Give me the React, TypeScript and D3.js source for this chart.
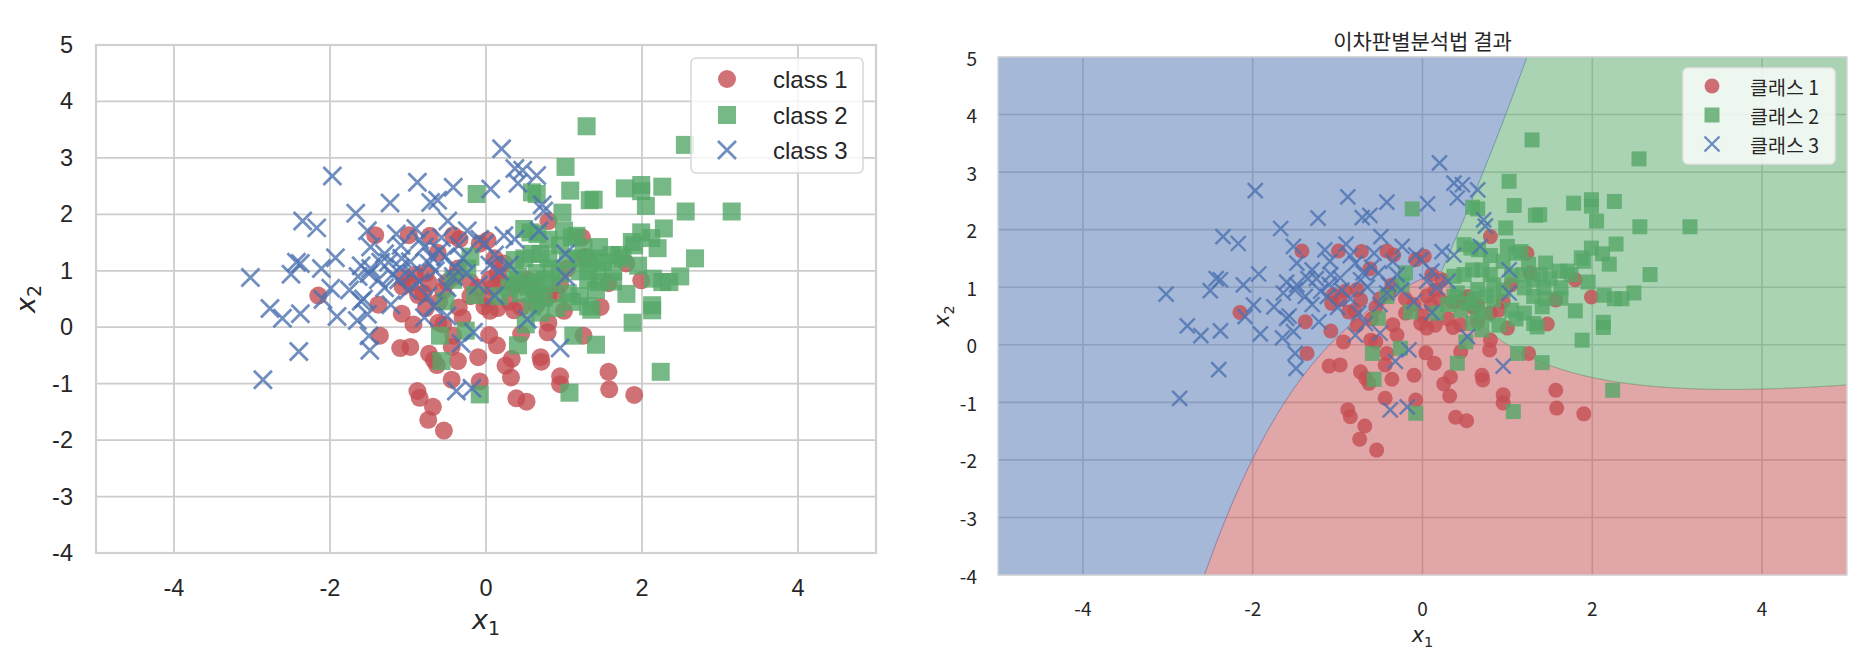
import React, { useMemo } from 'react';
import * as d3 from 'd3';

type Pt = [number, number];

// ---------- data ----------
const class1: Pt[] = [
  [-1.42, 1.63], [-0.99, 1.63], [-0.72, 1.62], [-0.42, 1.63], [-0.34, 1.56], [-0.62, 1.32], [-0.08, 1.48], [-0.36, 1.04], [-0.91, 0.93], [-0.77, 0.96],
  [-1.05, 0.87], [0.80, 1.88], [1.23, 1.59], [0.02, 1.54], [0.11, 1.22], [0.23, 1.13], [1.27, 1.25], [1.04, 1.04], [0.53, 0.84], [1.80, 1.13],
  [1.99, 0.83], [1.57, 0.78], [1.47, 0.36], [1.25, -0.15], [1.57, -0.79], [1.58, -1.10], [1.90, -1.20], [-2.15, 0.56], [-1.38, 0.40], [-1.08, 0.24],
  [-0.87, 0.57], [-1.07, 0.72], [-0.97, 0.78], [-0.93, 0.05], [-1.36, -0.15], [-1.10, -0.37], [-0.97, -0.35], [-0.73, -0.47], [-0.67, -0.58], [-0.63, -0.67],
  [-0.36, -0.60], [-0.61, 0.08], [-0.77, 0.34], [-0.44, -0.35], [-0.30, 0.17], [-0.44, -0.93], [-0.88, -1.13], [-0.85, -1.25], [-0.68, -1.41], [-0.74, -1.64],
  [-0.54, -1.83], [-0.10, -0.53], [-0.08, -0.96], [-0.55, 0.05], [-0.42, -0.15], [-0.02, 0.37], [0.05, 0.29], [0.15, 0.34], [0.36, 0.30], [0.04, -0.14],
  [0.14, -0.32], [0.33, -0.56], [0.25, -0.68], [0.32, -0.89], [0.70, -0.53], [0.71, -0.61], [0.45, -0.12], [0.79, -0.09], [0.95, -0.87], [0.95, -1.01],
  [0.39, -1.26], [0.52, -1.32], [1.00, 0.29], [0.80, 0.08], [-0.73, 0.78], [0.65, 0.69],
  [-0.55, 0.65], [-0.20, 0.55], [0.35, 0.75], [0.40, 0.75], [-0.10, 0.70], [0.80, 0.55], [0.10, 0.70], [-0.40, 0.90], [0.20, 0.80], [0.65, 0.40],
  [-0.50, 0.80], [0.30, 0.45], [0.95, 0.75], [-0.20, 0.80], [0.50, 0.80], [-0.60, 0.45], [0.60, 0.65], [-0.80, 0.60], [0.15, 0.95], [-0.35, 0.35],
  [0.90, 0.60], [0.00, 0.50], [0.45, 0.35], [0.05, 0.85],
];

const class2: Pt[] = [
  [-0.12, 2.36], [-0.20, 1.25], [-0.24, 1.04], [-0.42, 0.84], [1.29, 3.56], [1.02, 2.84], [1.08, 2.42], [0.59, 2.39], [0.65, 2.36], [1.33, 2.25],
  [0.98, 2.03], [0.49, 1.74], [0.57, 1.68], [0.66, 1.65], [1.00, 1.71], [1.10, 1.59], [1.16, 1.62], [0.59, 1.30], [0.70, 1.30], [0.80, 1.22],
  [0.49, 1.22], [0.37, 1.19], [1.18, 1.22], [2.55, 3.23], [1.78, 2.46], [1.99, 2.52], [1.99, 2.41], [2.26, 2.49], [1.38, 2.26], [2.05, 2.15],
  [2.56, 2.05], [3.15, 2.05], [1.99, 1.68], [2.28, 1.75], [2.12, 1.58], [1.87, 1.51], [1.90, 1.45], [2.20, 1.40], [1.45, 1.42], [1.61, 1.28],
  [1.71, 1.28], [1.75, 1.22], [1.39, 1.22], [1.95, 1.09], [2.68, 1.22], [2.49, 0.90], [2.14, 0.86], [2.26, 0.80], [2.35, 0.80], [1.63, 0.81],
  [1.41, 0.66], [1.35, 0.31], [1.80, 0.59], [2.13, 0.39], [1.88, 0.08], [1.41, -0.31], [2.24, -0.79], [-0.52, 0.46], [-0.59, -0.15], [-0.26, -0.06],
  [-0.57, -0.60], [-0.08, -1.19], [0.41, -0.32], [1.12, -0.15], [1.07, -1.16], [0.51, 0.05], [0.17, 0.55], [1.31, 0.37], [2.13, 0.30],
  [0.37, 0.84], [0.55, 0.72], [0.65, 0.58], [0.74, 0.52], [0.59, 0.37], [0.70, 0.26], [0.90, 0.34], [0.84, 0.78], [-0.14, 0.57], [0.84, 1.04],
  [0.65, 0.96], [0.41, 0.90], [1.20, 0.99], [1.31, 1.13], [1.43, 0.99], [1.63, 0.99], [1.31, 0.84],
  [1.05, 0.60], [0.95, 1.45], [1.50, 1.15], [0.95, 0.95], [1.10, 0.45], [0.80, 1.55], [1.25, 1.40], [0.45, 0.60], [0.60, 0.80], [1.45, 0.80],
  [0.75, 0.85], [1.05, 1.20], [0.30, 0.70], [1.20, 0.55],
];

const class3: Pt[] = [
  [-1.97, 2.68], [-1.67, 2.02], [-2.35, 1.88], [-2.17, 1.76], [-1.52, 1.71], [-1.48, 1.42], [-1.93, 1.23], [-2.43, 1.15], [-2.38, 1.13], [-2.11, 1.04],
  [-3.02, 0.88], [-2.50, 0.94], [-1.60, 1.09], [-1.64, 0.90], [-1.50, 0.95], [-1.99, 0.69], [-2.09, 0.49], [-2.77, 0.33], [-2.61, 0.16], [-2.38, 0.24],
  [-1.91, 0.19], [-1.75, 0.66], [-1.60, 0.46], [-1.57, 0.50], [-1.65, 0.12], [-1.52, 0.23], [-1.50, -0.15], [-1.49, -0.41], [-2.40, -0.43], [-2.86, -0.93],
  [-0.88, 2.57], [-0.42, 2.48], [-1.23, 2.20], [-0.71, 2.21], [-0.62, 2.25], [-0.49, 1.88], [-0.24, 1.71], [-1.30, 1.30], [-1.09, 1.45], [-0.79, 1.42],
  [-0.57, 1.59], [-1.08, 1.22], [-0.97, 1.16], [-0.73, 1.13], [-0.52, 1.25], [-0.30, 1.22], [-1.48, 1.04], [-1.20, 0.93], [-1.38, 0.84], [-0.42, 0.90],
  [0.20, 3.16], [0.37, 2.81], [0.47, 2.78], [0.41, 2.55], [0.65, 2.69], [0.06, 2.45], [0.72, 2.17], [0.74, 2.06], [0.68, 1.71], [0.23, 1.62],
  [0.37, 1.56], [-0.08, 1.56], [-0.02, 1.48], [0.11, 1.28], [1.02, 1.30], [1.02, 0.90], [0.17, 0.99], [-1.22, 0.40], [-0.79, 0.17], [-0.67, 0.37],
  [-0.50, 0.20], [-0.32, -0.29], [-0.16, -0.09], [-0.38, -1.13], [-0.18, -1.08], [-1.12, 0.84], [0.53, 0.14], [0.95, -0.37], [0.11, 0.56],
  [-0.90, 1.75], [-1.15, 1.65], [-0.65, 1.00], [-0.25, 0.95], [-1.00, 0.65], [-0.50, 0.70], [0.05, 1.10], [-0.85, 1.55], [-0.35, 1.45], [-1.25, 1.15],
  [-0.60, 1.35], [-0.10, 0.75], [-1.35, 1.15], [-1.30, 0.70], [-0.95, 0.95], [-0.85, 0.80], [-0.75, 0.55], [-1.10, 1.05], [-0.40, 1.05], [0.30, 1.10],
  [-0.70, 1.25],
];

const xTicks = [-4, -2, 0, 2, 4];
const yTicks = [-4, -3, -2, -1, 0, 1, 2, 3, 4, 5];
const xDomain: Pt = [-5, 5];
const yDomain: Pt = [-4, 5];
const legendLeft = ['class 1', 'class 2', 'class 3'];
const legendRight = ['클래스 1', '클래스 2', '클래스 3'];
const rightTitle = '이차판별분석법 결과';

// ---------- styling ----------
const COLORS = ['#C44E52', '#55A868', '#4C72B0'];
const TEXT = '#262626';
const GRID = '#cccccc';
const classes = [class1, class2, class3];

type Box = { l: number; r: number; t: number; b: number };
const LBOX: Box = { l: 96, r: 876, t: 45, b: 553 };
const RBOX: Box = { l: 998, r: 1847, t: 57, b: 575 };

function Marker({ kind, cx, cy, s, sw, color }: { kind: number; cx: number; cy: number; s: number; sw: number; color: string }) {
  const h = s / 2;
  if (kind === 0) return <circle cx={cx} cy={cy} r={h} fill={color} fillOpacity={0.8} />;
  if (kind === 1) return <rect x={cx - h} y={cy - h} width={s} height={s} fill={color} fillOpacity={0.8} />;
  return (
    <path
      d={`M${cx - h},${cy - h}L${cx + h},${cy + h}M${cx - h},${cy + h}L${cx + h},${cy - h}`}
      stroke={color}
      strokeOpacity={0.8}
      strokeWidth={sw}
      fill="none"
    />
  );
}

// Quadratic discriminant analysis fitted on the three classes
function fitQDA(groups: Pt[][]) {
  const N = d3.sum(groups, (g) => g.length);
  return groups.map((pts) => {
    const n = pts.length;
    const mx = d3.mean(pts, (p) => p[0]) as number;
    const my = d3.mean(pts, (p) => p[1]) as number;
    let sxx = 0, sxy = 0, syy = 0;
    for (const p of pts) {
      const dx = p[0] - mx, dy = p[1] - my;
      sxx += dx * dx; sxy += dx * dy; syy += dy * dy;
    }
    sxx /= n - 1; sxy /= n - 1; syy /= n - 1;
    const det = sxx * syy - sxy * sxy;
    return { mx, my, ixx: syy / det, iyy: sxx / det, ixy: -sxy / det, logdet: Math.log(det), logp: Math.log(n / N) };
  });
}

function Panel({ box, korean }: { box: Box; korean: boolean }) {
  const xs = d3.scaleLinear().domain(xDomain).range([box.l, box.r]);
  const ys = d3.scaleLinear().domain(yDomain).range([box.b, box.t]);
  const ms = korean ? 15 : 18;
  const sw = korean ? 2.4 : 2.8;
  const tickFont = korean ? '"Noto Sans CJK KR", "Noto Sans", sans-serif' : '"Liberation Sans", Arial, sans-serif';
  const tickSize = korean ? 19 : 23.5;

  const regions = useMemo(() => {
    if (!korean) return null;
    const models = fitQDA(classes);
    const nx = 500, ny = 450;
    const scores = models.map(() => new Float64Array(nx * ny));
    for (let j = 0; j < ny; j++) {
      const y = yDomain[1] - ((j + 0.5) * (yDomain[1] - yDomain[0])) / ny;
      for (let i = 0; i < nx; i++) {
        const x = xDomain[0] + ((i + 0.5) * (xDomain[1] - xDomain[0])) / nx;
        models.forEach((m, k) => {
          const dx = x - m.mx, dy = y - m.my;
          scores[k][j * nx + i] = -0.5 * m.logdet - 0.5 * (dx * dx * m.ixx + 2 * dx * dy * m.ixy + dy * dy * m.iyy) + m.logp;
        });
      }
    }
    const W = box.r - box.l, H = box.b - box.t;
    const path = d3.geoPath(
      d3.geoTransform({
        point(px: number, py: number) {
          (this as any).stream.point(box.l + (px * W) / nx, box.t + (py * H) / ny);
        },
      })
    );
    return models.map((_, k) => {
      const vals = new Array(nx * ny);
      for (let q = 0; q < nx * ny; q++) {
        let best = -Infinity;
        for (let o = 0; o < models.length; o++) if (o !== k && scores[o][q] > best) best = scores[o][q];
        vals[q] = scores[k][q] - best;
      }
      const c = d3.contours().size([nx, ny]).thresholds([0])(vals)[0];
      return path(c as any) || '';
    });
  }, [korean]);

  const clipId = korean ? 'clipR' : 'clipL';
  const legendLabels = korean ? legendRight : legendLeft;
  const lg = korean
    ? { x: 1683, y: 68, w: 152, h: 96, mx: 1712, tx: 1750, rows: [86, 115, 144], fs: 19.5, font: '"Noto Sans CJK KR", sans-serif' }
    : { x: 691, y: 58, w: 172, h: 115, mx: 727, tx: 773, rows: [79, 115, 150], fs: 24, font: '"Liberation Sans", Arial, sans-serif' };

  return (
    <g>
      <defs>
        <clipPath id={clipId}>
          <rect x={box.l} y={box.t} width={box.r - box.l} height={box.b - box.t} />
        </clipPath>
      </defs>
      <rect x={box.l} y={box.t} width={box.r - box.l} height={box.b - box.t} fill="#ffffff" />
      {xTicks.map((v) => (
        <line key={'gx' + v} x1={xs(v)} x2={xs(v)} y1={box.t} y2={box.b} stroke={GRID} strokeWidth={korean ? 1.6 : 1.8} />
      ))}
      {yTicks.map((v) => (
        <line key={'gy' + v} x1={box.l} x2={box.r} y1={ys(v)} y2={ys(v)} stroke={GRID} strokeWidth={korean ? 1.6 : 1.8} />
      ))}
      {regions && (
        <g clipPath={`url(#${clipId})`}>
          {regions.map((d, k) => (
            <path key={'reg' + k} d={d} fill={COLORS[k]} fillOpacity={0.5} stroke={COLORS[k]} strokeOpacity={0.45} strokeWidth={0.9} />
          ))}
        </g>
      )}
      <rect x={box.l} y={box.t} width={box.r - box.l} height={box.b - box.t} fill="none" stroke={korean ? '#d8d8d8' : '#d0d0d0'} strokeWidth={korean ? 1.5 : 2.2} />
      <g clipPath={`url(#${clipId})`}>
        {classes.map((pts, k) =>
          pts.map((p, i) => <Marker key={k + '-' + i} kind={k} cx={xs(p[0])} cy={ys(p[1])} s={ms} sw={sw} color={COLORS[k]} />)
        )}
      </g>
      {/* tick labels */}
      {xTicks.map((v) => (
        <text key={'tx' + v} x={xs(v)} y={korean ? 607 : 588} textAnchor="middle" dominantBaseline="central" fontFamily={tickFont} fontSize={tickSize} fill={TEXT}>
          {`${v}`}
        </text>
      ))}
      {yTicks.map((v) => (
        <text key={'ty' + v} x={korean ? 977 : 73} y={ys(v)} textAnchor="end" dominantBaseline="central" fontFamily={tickFont} fontSize={tickSize} fill={TEXT}>
          {`${v}`}
        </text>
      ))}
      {/* axis labels */}
      <text x={(box.l + box.r) / 2} y={korean ? 642 : 629} textAnchor="middle" fontFamily='"DejaVu Sans", sans-serif' fontStyle="italic" fontSize={korean ? 21 : 27} fill={TEXT}>
        x<tspan fontStyle="normal" fontSize={korean ? 14.5 : 19} dy={korean ? 5 : 6}>1</tspan>
      </text>
      <text
        transform={`translate(${korean ? 949 : 35},${(box.t + box.b) / 2}) rotate(-90)`}
        textAnchor="middle"
        fontFamily='"DejaVu Sans", sans-serif'
        fontStyle="italic"
        fontSize={korean ? 21 : 27}
        fill={TEXT}
      >
        x<tspan fontStyle="normal" fontSize={korean ? 14.5 : 19} dy={korean ? 5 : 6}>2</tspan>
      </text>
      {korean && (
        <text x={(box.l + box.r) / 2} y={49} textAnchor="middle" fontFamily='"Noto Sans CJK KR", sans-serif' fontSize={21} fill={TEXT}>
          {rightTitle}
        </text>
      )}
      {/* legend */}
      <rect x={lg.x} y={lg.y} width={lg.w} height={lg.h} rx={5} fill="#ffffff" fillOpacity={0.8} stroke={korean ? '#e4e4e4' : '#d6d6d6'} strokeWidth={1.5} />
      {legendLabels.map((lab, k) => (
        <g key={'lg' + k}>
          <Marker kind={k} cx={lg.mx} cy={lg.rows[k]} s={ms} sw={sw} color={COLORS[k]} />
          <text x={lg.tx} y={lg.rows[k]} dominantBaseline="central" fontFamily={lg.font} fontSize={lg.fs} fill={TEXT}>
            {lab}
          </text>
        </g>
      ))}
    </g>
  );
}

export default function App() {
  return (
    <svg width={1860} height={650} style={{ position: 'absolute', left: 0, top: 0, background: '#ffffff' }}>
      <rect x={0} y={0} width={1860} height={650} fill="#ffffff" />
      <Panel box={LBOX} korean={false} />
      <Panel box={RBOX} korean={true} />
    </svg>
  );
}
